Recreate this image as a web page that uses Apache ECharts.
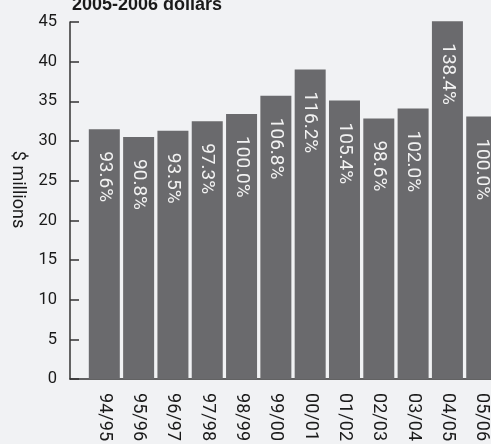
<!DOCTYPE html>
<html>
<head>
<meta charset="utf-8">
<script src="https://cdn.jsdelivr.net/npm/echarts@6/dist/echarts.min.js"></script>
<style>
html,body{margin:0;padding:0;background:#f1f2f4;}
#c{width:491px;height:444px;}
</style>
</head>
<body>
<div id="c"></div>
<script>
const categories = ['94/95','95/96','96/97','97/98','98/99','99/00','00/01','01/02','02/03','03/04','04/05','05/06'];
const values = [31.5, 30.5, 31.3, 32.5, 33.4, 35.7, 39.0, 35.1, 32.85, 34.1, 45.1, 33.1];
const pctLabels = ['93.6%','90.8%','93.5%','97.3%','100.0%','106.8%','116.2%','105.4%','98.6%','102.0%','138.4%','100.0%'];
const yTicks = [0,5,10,15,20,25,30,35,40,45];

const FONT = 'Roboto';
const chart = echarts.init(document.getElementById('c'), null, {renderer:'canvas'});
chart.setOption({
  backgroundColor: '#f1f2f4',
  animation: false,
  title: {
    text: '2005-2006 dollars',
    left: 67, top: -9,
    textStyle: {fontFamily: 'Liberation Sans', fontWeight: 'bold', fontSize: 18, color: '#1a1a1a'}
  },
  grid: {left: 69.5, right: 0, top: 22, bottom: 61.5, containLabel: false},
  xAxis: {
    type: 'value', min: -1, max: 11.27, interval: 1,
    axisLine: {show: true, onZero: false, lineStyle: {color: '#333', width: 1.5}},
    axisTick: {show: false},
    splitLine: {show: false},
    axisLabel: {
      rotate: -90, margin: 14, fontFamily: FONT, fontSize: 18, color: '#1a1a1a',
      formatter: v => (Number.isInteger(v) && categories[v]) ? categories[v] : ''
    }
  },
  yAxis: {
    type: 'value', min: 0, max: 45, interval: 5,
    name: '$ millions', nameLocation: 'middle', nameGap: 44, nameRotate: -90,
    nameTextStyle: {fontFamily: FONT, fontSize: 18, color: '#1a1a1a', padding: [0, 22, 0, 0]},
    axisLine: {show: true, onZero: false, lineStyle: {color: '#333', width: 1.5}},
    axisTick: {show: true, inside: true, length: 9, lineStyle: {color: '#333', width: 1.5}},
    splitLine: {show: false},
    axisLabel: {
      margin: 13, fontFamily: FONT, fontSize: 16.5, color: '#1a1a1a',
      formatter: v => yTicks.includes(v) ? String(v) : ''
    }
  },
  series: [{
    type: 'bar',
    clip: false,
    barWidth: 31,
    itemStyle: {color: '#6a6a6d'},
    data: values.map((v, i) => [i, v]),
    label: {
      show: true, position: 'insideTop', distance: 22, rotate: -90,
      align: 'left', verticalAlign: 'middle',
      fontFamily: FONT, fontSize: 19, color: '#f2f2f2',
      formatter: p => pctLabels[p.dataIndex]
    }
  }]
});
</script>
</body>
</html>
